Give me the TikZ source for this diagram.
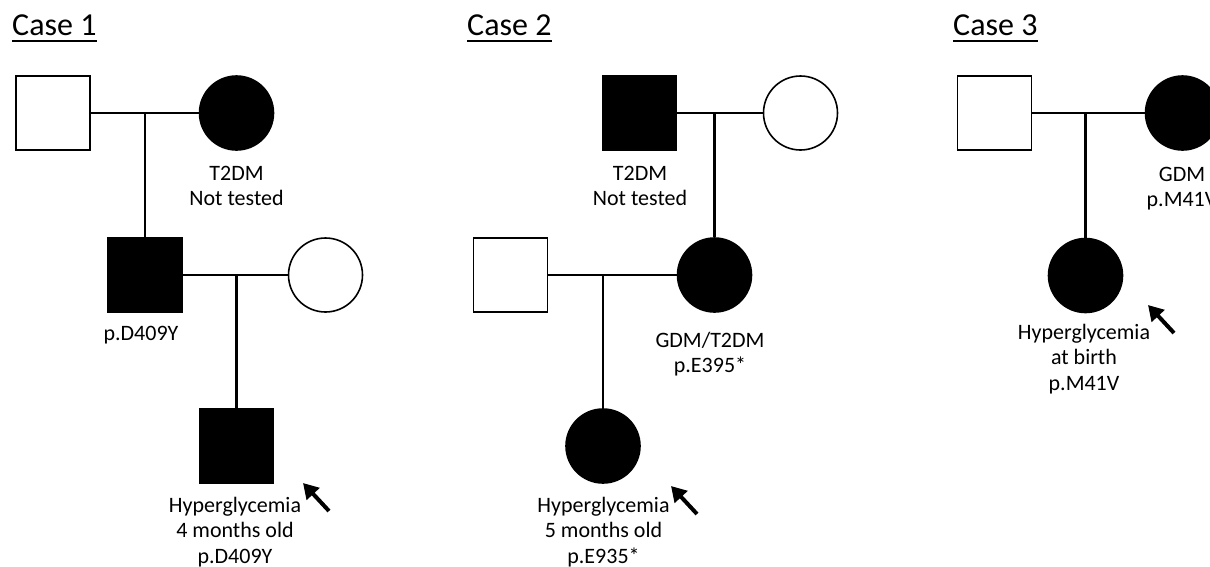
\documentclass[tikz,border=0pt]{standalone}
\usepackage{fontspec}
\setmainfont{Carlito}
\usetikzlibrary{arrows.meta}
\tikzset{
  male/.style={rectangle, draw, line width=1.6pt, minimum size=74pt, inner sep=0pt},
  female/.style={circle, draw, line width=1.6pt, minimum size=74pt, inner sep=0pt},
  aff/.style={fill=black},
  unaff/.style={fill=white},
  rel/.style={line width=2.2pt},
  lbl/.style={anchor=north, align=center, inner sep=0pt, font=\fontsize{22pt}{25.5pt}\selectfont},
  ttl/.style={anchor=base west, inner sep=0pt, font=\fontsize{32pt}{36pt}\selectfont},
  proband/.style={line width=4pt, -{Triangle[length=15pt,width=17pt]}}
}
\begin{document}
\begin{tikzpicture}[x=1pt,y=-1pt]
\useasboundingbox (0,0) rectangle (1210,566);
\clip (0,0) rectangle (1210,566);
% titles
\node[ttl] (t1) at (12,35) {Case 1};
\node[ttl] (t2) at (467,35) {Case 2};
\node[ttl] (t3) at (953,35) {Case 3};
\foreach \t in {t1,t2,t3}{
  \draw[line width=1.6pt] ([yshift=-6pt]\t.base west) -- ([yshift=-6pt]\t.base east);
}
% ---------- Case 1 ----------
\node[male,unaff] (c1f) at (53,113) {};
\node[female,aff] (c1m) at (236.5,113) {};
\node[male,aff] (c1s) at (145,275) {};
\node[female,unaff] (c1w) at (325.5,275) {};
\node[male,aff] (c1p) at (236.5,446) {};
\coordinate (j1) at (145,113);
\coordinate (j2) at (236.5,275);
\draw[rel] (c1f.east) -- (c1m.west);
\draw[rel] (j1) -- (c1s.north);
\draw[rel] (c1s.east) -- (c1w.west);
\draw[rel] (j2) -- (c1p.north);
\node[lbl] (l1m) at (236.5,166) {T2DM\\Not tested};
\node[lbl] (l1s) at (141,326) {p.D409Y};
\node[lbl] (l1p) at (235,497) {Hyperglycemia\\4 months old\\p.D409Y};
\coordinate (a1t) at (329,511);
\coordinate (a1h) at (303,483);
\draw[proband] (a1t) -- (a1h);
% ---------- Case 2 ----------
\node[male,aff] (c2f) at (639.5,113) {};
\node[female,unaff] (c2m) at (800.5,113) {};
\node[male,unaff] (c2h) at (510.5,275) {};
\node[female,aff] (c2d) at (714.5,275) {};
\node[female,aff] (c2p) at (603,446) {};
\coordinate (j3) at (714.5,113);
\coordinate (j4) at (603,275);
\draw[rel] (c2f.east) -- (c2m.west);
\draw[rel] (j3) -- (c2d.north);
\draw[rel] (c2h.east) -- (c2d.west);
\draw[rel] (j4) -- (c2p.north);
\node[lbl] (l2f) at (640,166) {T2DM\\Not tested};
\node[lbl] (l2d) at (710,332) {GDM/T2DM\\p.E395*};
\node[lbl] (l2p) at (603.5,497) {Hyperglycemia\\5 months old\\p.E935*};
\coordinate (a2t) at (697,514);
\coordinate (a2h) at (671,486);
\draw[proband] (a2t) -- (a2h);
% ---------- Case 3 ----------
\node[male,unaff] (c3f) at (994.5,113) {};
\node[female,aff] (c3m) at (1182.5,113) {};
\node[female,aff] (c3p) at (1085.5,275.5) {};
\coordinate (j5) at (1085.5,113);
\draw[rel] (c3f.east) -- (c3m.west);
\draw[rel] (j5) -- (c3p.north);
\node[lbl] (l3m) at (1182,167) {GDM\\p.M41V};
\node[lbl] (l3p) at (1084,324) {Hyperglycemia\\at birth\\p.M41V};
\coordinate (a3t) at (1174,333);
\coordinate (a3h) at (1148,305);
\draw[proband] (a3t) -- (a3h);
\end{tikzpicture}
\end{document}
